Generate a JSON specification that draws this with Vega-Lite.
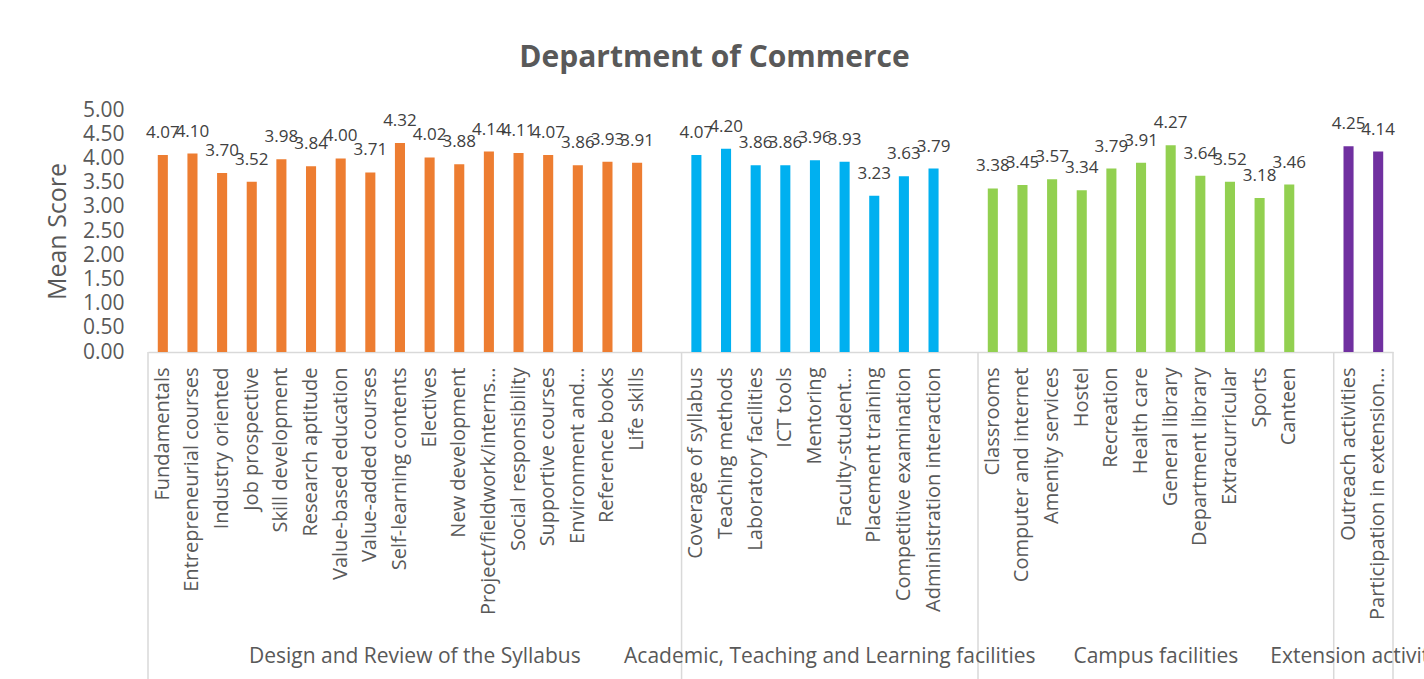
{
  "$schema": "https://vega.github.io/schema/vega-lite/v6.json",
  "autosize": {"type": "none"},
  "padding": {"left": 148, "top": 110, "right": 31, "bottom": 327},
  "width": 1245,
  "height": 242,
  "background": "white",
  "config": {"view": {"stroke": null}, "font": "Open Sans", "axisY": {"tickCount": 11, "labelOverlap": false}},
  "title": {"text": "Department of Commerce", "fontSize": 30, "font": "Open Sans", "fontWeight": "bold", "color": "#595959", "anchor": "middle", "dx": -56, "offset": 26},
  "datasets": {
    "bars": [
      {"cat": "Fundamentals", "group": "Design", "value": 4.07},
      {"cat": "Entrepreneurial courses", "group": "Design", "value": 4.10},
      {"cat": "Industry oriented", "group": "Design", "value": 3.70},
      {"cat": "Job prospective", "group": "Design", "value": 3.52},
      {"cat": "Skill development", "group": "Design", "value": 3.98},
      {"cat": "Research aptitude", "group": "Design", "value": 3.84},
      {"cat": "Value-based education", "group": "Design", "value": 4.00},
      {"cat": "Value-added courses", "group": "Design", "value": 3.71},
      {"cat": "Self-learning contents", "group": "Design", "value": 4.32},
      {"cat": "Electives", "group": "Design", "value": 4.02},
      {"cat": "New development", "group": "Design", "value": 3.88},
      {"cat": "Project/fieldwork/interns…", "group": "Design", "value": 4.14},
      {"cat": "Social responsibility", "group": "Design", "value": 4.11},
      {"cat": "Supportive courses", "group": "Design", "value": 4.07},
      {"cat": "Environment and…", "group": "Design", "value": 3.86},
      {"cat": "Reference books", "group": "Design", "value": 3.93},
      {"cat": "Life skills", "group": "Design", "value": 3.91},
      {"cat": "Coverage of syllabus", "group": "Academic", "value": 4.07},
      {"cat": "Teaching methods", "group": "Academic", "value": 4.20},
      {"cat": "Laboratory facilities", "group": "Academic", "value": 3.86},
      {"cat": "ICT tools", "group": "Academic", "value": 3.86},
      {"cat": "Mentoring", "group": "Academic", "value": 3.96},
      {"cat": "Faculty-student…", "group": "Academic", "value": 3.93},
      {"cat": "Placement training", "group": "Academic", "value": 3.23},
      {"cat": "Competitive examination", "group": "Academic", "value": 3.63},
      {"cat": "Administration interaction", "group": "Academic", "value": 3.79},
      {"cat": "Classrooms", "group": "Campus", "value": 3.38},
      {"cat": "Computer and internet", "group": "Campus", "value": 3.45},
      {"cat": "Amenity services", "group": "Campus", "value": 3.57},
      {"cat": "Hostel", "group": "Campus", "value": 3.34},
      {"cat": "Recreation", "group": "Campus", "value": 3.79},
      {"cat": "Health care", "group": "Campus", "value": 3.91},
      {"cat": "General library", "group": "Campus", "value": 4.27},
      {"cat": "Department library", "group": "Campus", "value": 3.64},
      {"cat": "Extracurricular", "group": "Campus", "value": 3.52},
      {"cat": "Sports", "group": "Campus", "value": 3.18},
      {"cat": "Canteen", "group": "Campus", "value": 3.46},
      {"cat": "Outreach activities", "group": "Extension", "value": 4.25},
      {"cat": "Participation in extension…", "group": "Extension", "value": 4.14}
    ],
    "dividers": [
      {"cat": "Fundamentals", "y0": 0, "y1": -7.2},
      {"cat": "Coverage of syllabus", "y0": 0, "y1": -7.2},
      {"cat": "Classrooms", "y0": 0, "y1": -7.2},
      {"cat": "Outreach activities", "y0": 0, "y1": -7.2}
    ],
    "enddivider": [
      {"cat": "Participation in extension…", "y0": 0, "y1": -7.2}
    ],
    "groups": [
      {"cat": "Electives", "label": "Design and Review of the Syllabus", "ypos": -6.3},
      {"cat": "Faculty-student…", "label": "Academic, Teaching and Learning facilities", "ypos": -6.3},
      {"cat": "General library", "label": "Campus facilities", "ypos": -6.3},
      {"cat": "Participation in extension…", "label": "Extension activities", "ypos": -6.3}
    ]
  },
  "layer": [
    {
      "data": {"name": "bars"},
      "mark": {"type": "bar", "width": {"band": 0.34}},
      "encoding": {
        "x": {
          "field": "cat", "type": "nominal", "sort": null,
          "scale": {
            "domain": ["Fundamentals", "Entrepreneurial courses", "Industry oriented", "Job prospective", "Skill development", "Research aptitude", "Value-based education", "Value-added courses", "Self-learning contents", "Electives", "New development", "Project/fieldwork/interns…", "Social responsibility", "Supportive courses", "Environment and…", "Reference books", "Life skills", " ",
              "Coverage of syllabus", "Teaching methods", "Laboratory facilities", "ICT tools", "Mentoring", "Faculty-student…", "Placement training", "Competitive examination", "Administration interaction", "  ",
              "Classrooms", "Computer and internet", "Amenity services", "Hostel", "Recreation", "Health care", "General library", "Department library", "Extracurricular", "Sports", "Canteen", "   ",
              "Outreach activities", "Participation in extension…"],
            "paddingInner": 0, "paddingOuter": 0
          },
          "axis": {
            "title": null, "labelAngle": 270, "labelAlign": "right", "labelBaseline": "middle",
            "labelFontSize": 20, "labelColor": "#595959", "labelFont": "Open Sans", "labelPadding": 15,
            "labelLimit": 0, "ticks": false, "domainColor": "#D9D9D9", "domainWidth": 1.5, "grid": false, "labelOverlap": false
          }
        },
        "y": {
          "field": "value", "type": "quantitative",
          "scale": {"domain": [0, 5], "nice": false, "zero": true},
          "axis": {
            "title": "Mean Score", "titleFontSize": 25, "titleFont": "Open Sans", "titleFontWeight": "normal", "titleColor": "#595959", "titlePadding": 12,
            "values": [0, 0.5, 1, 1.5, 2, 2.5, 3, 3.5, 4, 4.5, 5], "tickCount": 11, "format": ".2f", "labelOverlap": false,
            "labelFontSize": 21, "labelColor": "#595959", "labelFont": "Open Sans", "labelPadding": 24,
            "domain": false, "ticks": false, "grid": false
          }
        },
        "color": {
          "field": "group", "type": "nominal", "legend": null,
          "scale": {"domain": ["Design", "Academic", "Campus", "Extension"], "range": ["#ED7D31", "#00B0F0", "#92D050", "#7030A0"]}
        }
      }
    },
    {
      "data": {"name": "bars"},
      "mark": {"type": "text", "fontSize": 17, "font": "Open Sans", "color": "#404040", "baseline": "middle", "dy": -22},
      "encoding": {
        "x": {"field": "cat", "type": "nominal", "sort": null},
        "y": {"field": "value", "type": "quantitative"},
        "text": {"field": "value", "type": "quantitative", "format": ".2f"}
      }
    },
    {
      "data": {"name": "dividers"},
      "mark": {"type": "rule", "color": "#D9D9D9", "strokeWidth": 1.5},
      "encoding": {
        "x": {"field": "cat", "type": "nominal", "sort": null, "bandPosition": 0},
        "y": {"field": "y0", "type": "quantitative"},
        "y2": {"field": "y1"}
      }
    },
    {
      "data": {"name": "enddivider"},
      "mark": {"type": "rule", "color": "#D9D9D9", "strokeWidth": 1.5},
      "encoding": {
        "x": {"field": "cat", "type": "nominal", "sort": null, "bandPosition": 1},
        "y": {"field": "y0", "type": "quantitative"},
        "y2": {"field": "y1"}
      }
    },
    {
      "data": {"name": "groups"},
      "mark": {"type": "text", "fontSize": 21, "font": "Open Sans", "color": "#595959", "baseline": "middle", "align": "center"},
      "encoding": {
        "x": {"field": "cat", "type": "nominal", "sort": null, "bandPosition": 0},
        "y": {"field": "ypos", "type": "quantitative"},
        "text": {"field": "label"}
      }
    }
  ]
}
